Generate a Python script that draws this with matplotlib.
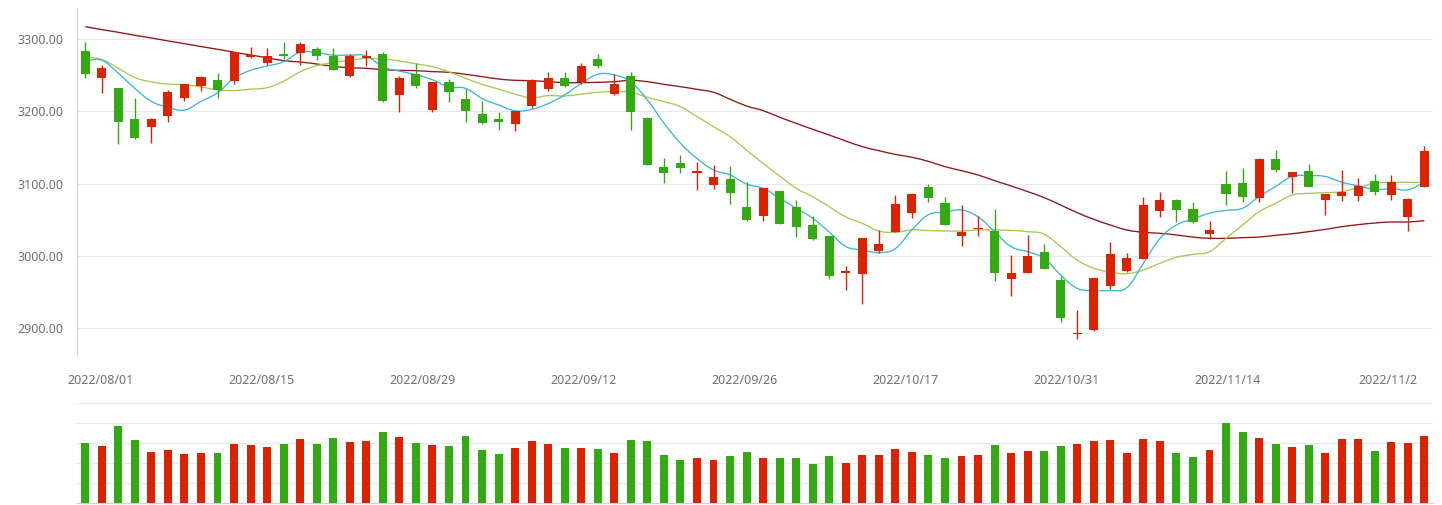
import matplotlib
matplotlib.use("Agg")
import matplotlib.pyplot as plt
import numpy as np
from matplotlib.path import Path
from matplotlib.patches import PathPatch

# daily OHLC (index points)
opens = [3283.8, 3246.9, 3232.6, 3189.6, 3179.0, 3194.2, 3219.2, 3235.8, 3243.6, 3242.7,
         3276.0, 3267.7, 3279.7, 3281.5, 3286.6, 3277.4, 3249.7, 3274.1, 3279.7, 3223.3,
         3252.0, 3202.5, 3240.9, 3217.3, 3196.5, 3189.6, 3183.1, 3208.1, 3231.6, 3246.4,
         3240.9, 3272.7, 3224.7, 3249.2, 3191.0, 3123.1, 3128.6, 3115.2, 3098.6, 3106.5,
         3067.7, 3055.7, 3089.8, 3067.7, 3042.7, 3027.9, 2976.6, 2975.3, 3007.2, 3033.0,
         3059.8, 3095.4, 3073.2, 3027.5, 3037.2, 3034.9, 2968.4, 2976.7, 3005.3, 2966.5,
         2892.1, 2897.7, 2958.7, 2979.4, 2995.7, 3062.1, 3077.4, 3064.9, 3030.2, 3099.5,
         3100.9, 3080.1, 3134.2, 3109.2, 3117.6, 3077.4, 3083.0, 3083.0, 3103.7, 3084.2,
         3053.8, 3095.4]
highs = [3296.3, 3264.4, 3232.6, 3218.7, 3191.0, 3229.8, 3238.1, 3249.2, 3253.3, 3282.4,
         3289.4, 3288.0, 3296.3, 3296.3, 3289.4, 3288.0, 3279.7, 3285.2, 3282.4, 3249.2,
         3267.2, 3240.9, 3245.0, 3231.6, 3214.5, 3199.3, 3201.2, 3245.0, 3254.7, 3254.7,
         3267.2, 3279.7, 3252.0, 3254.7, 3192.4, 3135.6, 3139.7, 3130.0, 3125.9, 3124.5,
         3102.3, 3094.0, 3089.8, 3077.4, 3055.2, 3027.9, 2985.9, 3024.7, 3035.8, 3084.3,
         3087.1, 3099.5, 3081.5, 3070.4, 3055.7, 3064.9, 3001.2, 3028.9, 3016.4, 2972.5,
         2924.9, 2969.3, 3019.2, 3003.9, 3081.5, 3088.5, 3078.8, 3074.6, 3048.3, 3117.6,
         3121.7, 3135.6, 3146.7, 3116.2, 3127.3, 3085.7, 3118.9, 3107.9, 3113.4, 3112.0,
         3080.1, 3152.2]
lows = [3246.4, 3226.1, 3155.4, 3161.4, 3156.8, 3185.9, 3215.0, 3228.9, 3219.2, 3238.6,
        3274.6, 3264.0, 3273.2, 3264.9, 3271.8, 3258.0, 3248.3, 3263.5, 3213.6, 3199.8,
        3233.0, 3199.8, 3213.6, 3185.9, 3183.1, 3174.8, 3173.4, 3205.3, 3228.9, 3234.4,
        3238.6, 3260.7, 3223.3, 3174.8, 3126.3, 3101.4, 3115.2, 3091.7, 3093.1, 3072.3,
        3048.7, 3048.7, 3044.6, 3026.5, 3022.4, 2968.3, 2953.0, 2933.7, 3004.4, 3033.0,
        3052.9, 3075.0, 3042.7, 3013.6, 3027.5, 2965.6, 2944.8, 2976.7, 2982.2, 2908.8,
        2885.2, 2896.3, 2954.5, 2978.1, 2995.7, 3054.3, 3047.4, 3045.9, 3023.8, 3070.4,
        3074.6, 3074.6, 3116.2, 3087.1, 3095.4, 3056.6, 3076.0, 3076.0, 3084.2, 3077.4,
        3034.9, 3095.4]
closes = [3252.4, 3260.3, 3185.9, 3163.7, 3189.6, 3227.0, 3238.1, 3247.8, 3229.8, 3282.4,
          3278.8, 3276.9, 3277.4, 3293.5, 3277.4, 3258.0, 3277.4, 3276.9, 3215.0, 3246.4,
          3235.8, 3240.9, 3227.5, 3201.2, 3184.5, 3185.9, 3201.2, 3243.6, 3246.4, 3235.8,
          3263.0, 3263.5, 3238.1, 3199.8, 3126.3, 3115.2, 3122.2, 3117.6, 3109.2, 3087.5,
          3050.1, 3094.0, 3044.6, 3040.4, 3023.8, 2972.5, 2978.9, 3024.7, 3016.4, 3071.8,
          3085.7, 3080.6, 3042.7, 3033.5, 3038.6, 2976.7, 2976.2, 2999.8, 2982.2, 2914.3,
          2893.5, 2969.3, 3002.5, 2997.0, 3070.4, 3077.4, 3063.5, 3047.3, 3035.8, 3085.7,
          3081.5, 3134.2, 3118.9, 3116.2, 3095.4, 3085.7, 3088.5, 3096.8, 3088.5, 3102.3,
          3078.8, 3145.3]

# trading volume (relative units)
volumes = [301, 287, 387, 317, 257, 267, 247, 252, 252, 297,
           292, 282, 297, 322, 297, 327, 307, 312, 357, 332,
           302, 292, 287, 337, 267, 247, 277, 312, 297, 277,
           277, 272, 252, 317, 312, 242, 217, 227, 217, 237,
           257, 227, 227, 227, 197, 237, 202, 242, 242, 272,
           257, 242, 227, 237, 242, 292, 252, 262, 262, 287,
           297, 312, 317, 252, 322, 312, 252, 232, 267, 402,
           357, 327, 297, 282, 292, 252, 322, 322, 262, 307,
           302, 337]

# moving averages as drawn
ma5 = [3270, 3271, 3253, 3232, 3214, 3206, 3202, 3214, 3226, 3246,
       3257, 3263, 3269, 3282, 3281.5, 3278, 3278, 3277, 3262, 3256,
       3251, 3244, 3234, 3232, 3218, 3209, 3201, 3203, 3211, 3223,
       3239, 3251.5, 3250.6, 3241, 3216, 3184, 3156, 3135, 3119, 3112,
       3099.5, 3093.5, 3080, 3066, 3052, 3033, 3013, 3008, 3004.5, 3010,
       3036, 3057, 3060.5, 3063.5, 3054, 3033.5, 3012.7, 3005.8, 2996.5, 2973.4,
       2955, 2952, 2952, 2956, 2989.6, 3024, 3042.7, 3051, 3059, 3063,
       3066, 3082, 3096, 3110, 3111, 3110, 3102, 3097, 3092, 3093,
       3091.5, 3102]
ma10 = [3275, 3272, 3260, 3247, 3241, 3238, 3237, 3234, 3230, 3229,
        3231, 3233, 3242, 3255, 3263.5, 3267.7, 3271, 3273.7, 3272.7, 3270,
        3266, 3262, 3255, 3246, 3237.6, 3231, 3224, 3219, 3222, 3221.5,
        3224, 3226.6, 3227.5, 3226.6, 3219.6, 3213.6, 3206.7, 3193, 3179, 3165,
        3146.5, 3128, 3110.6, 3093.5, 3082, 3068, 3054, 3045, 3034.4, 3032.6,
        3036, 3035, 3034.5, 3034.4, 3035.8, 3035.8, 3035.3, 3033.5, 3030, 3012.7,
        2994.2, 2982.7, 2977.6, 2975.3, 2980.4, 2989.6, 2998, 3002, 3005.8, 3024.2,
        3042.7, 3061, 3072.7, 3084.3, 3086.6, 3087.5, 3088.9, 3094.5, 3100.5, 3101.8,
        3101.8, 3101.8]
ma30 = [3317.5, 3313.5, 3309.7, 3305.6, 3301.8, 3297.8, 3294, 3290, 3286.2, 3282.2,
        3278.3, 3274.4, 3270.4, 3268.6, 3265.8, 3262.6, 3260.7, 3259.8, 3258, 3257,
        3256.6, 3255.2, 3254.3, 3251.5, 3248.3, 3245, 3243.2, 3242.7, 3241.3, 3240,
        3240, 3240.4, 3241.3, 3243.2, 3241.3, 3237.6, 3234.4, 3230.7, 3226.6, 3217,
        3207.6, 3201.2, 3192, 3183.6, 3175.3, 3167.4, 3159.1, 3151.3, 3145.7, 3140.6,
        3136.5, 3130.9, 3123.6, 3118, 3112, 3104.2, 3096.8, 3089, 3080.6, 3070.4,
        3059.8, 3050.6, 3042.7, 3035.8, 3032.6, 3031.2, 3028.9, 3026, 3024.3, 3024.3,
        3025.2, 3026.1, 3028.4, 3030.7, 3033.5, 3036.7, 3040.4, 3043.2, 3045.5, 3046.9,
        3046.9, 3048.7]

tick_labels = ['2022/08/01', '2022/08/15', '2022/08/29', '2022/09/12', '2022/09/26',
               '2022/10/17', '2022/10/31', '2022/11/14', '2022/11/2']
price_ticks = [2900, 3000, 3100, 3200, 3300]

UP = '#dd2200'
DOWN = '#33aa11'
GRID = '#e6e9f0'
AXIS = '#ccd3e0'
LABEL = '#6e7079'

plt.rcParams['font.family'] = ['Noto Sans', 'DejaVu Sans']


def smooth_line(ax, xs, ys, color, k=0.2):
    # bezier curve through the points, like a "smooth" line series
    pts = np.column_stack([xs, ys]).astype(float)
    verts = [pts[0]]
    codes = [Path.MOVETO]
    n = len(pts)
    for i in range(n - 1):
        p0 = pts[max(i - 1, 0)]
        p1 = pts[i]
        p2 = pts[i + 1]
        p3 = pts[min(i + 2, n - 1)]
        verts += [p1 + (p2 - p0) * k, p2 - (p3 - p1) * k, p2]
        codes += [Path.CURVE4] * 3
    ax.add_patch(PathPatch(Path(verts, codes), fill=False, edgecolor=color,
                           lw=0.95, zorder=2))


W, H = 1442, 505
fig = plt.figure(figsize=(W / 100, H / 100), dpi=100)
left, right = 77, 1432.7
ax = fig.add_axes([left / W, (H - 355) / H, (right - left) / W, (355 - 8) / H])
axv = fig.add_axes([left / W, (H - 503.3) / H, (right - left) / W, 100 / H])

o = np.array(opens)
c = np.array(closes)
x = np.arange(len(closes))
colors = np.where(c >= o, UP, DOWN)

# candles
ax.vlines(x, lows, highs, colors=colors, linewidth=1.0, zorder=3)
body = np.maximum(np.abs(c - o), 0.9)
ax.bar(x, body, bottom=np.minimum(o, c), width=0.55, color=colors, zorder=4)

# moving averages
smooth_line(ax, x, ma30, '#8e1616')
smooth_line(ax, x, ma10, '#a6c94f')
smooth_line(ax, x, ma5, '#3cb6d6')

for v in price_ticks:
    ax.axhline(v, color=GRID, lw=0.8, zorder=0)

ax.set_xlim(-0.5, len(closes) - 0.5)
ax.set_ylim(2862.6, 3343.4)
ax.set_yticks(price_ticks)
ax.set_yticklabels(['%.2f' % v for v in price_ticks])
ax.set_xticks(np.linspace(0.92, 78.8, len(tick_labels)))
ax.set_xticklabels(tick_labels)
ax.tick_params(axis='both', length=0, labelsize=9, labelcolor=LABEL)
ax.tick_params(axis='y', pad=10)
ax.tick_params(axis='x', pad=14)
for s in ['top', 'right', 'bottom']:
    ax.spines[s].set_visible(False)
ax.spines['left'].set_color(AXIS)
ax.spines['left'].set_linewidth(0.9)

# volume panel
axv.bar(x, volumes, width=0.48, color=colors, zorder=3)
for v in [100, 200, 300, 400, 500]:
    axv.axhline(v, color=GRID, lw=0.8, zorder=0)
axv.set_xlim(-0.5, len(closes) - 0.5)
axv.set_ylim(0, 500)
axv.set_xticks([])
axv.set_yticks([])
for s in ['top', 'right', 'left']:
    axv.spines[s].set_visible(False)
axv.spines['bottom'].set_color(AXIS)
axv.spines['bottom'].set_linewidth(0.9)

fig.savefig('out.png', dpi=100, facecolor='white')
